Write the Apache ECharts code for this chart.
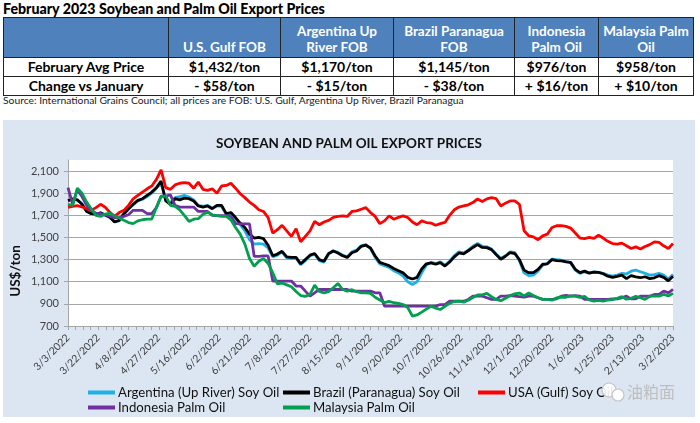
<!DOCTYPE html>
<html><head><meta charset="utf-8">
<script src="https://cdn.jsdelivr.net/npm/echarts@6/dist/echarts.min.js"></script>
<style>
body{margin:0;background:#fff;width:700px;height:423px;overflow:hidden;position:relative;font-family:Lato,"Open Sans",sans-serif;}
#title{position:absolute;left:3px;top:0px;font-weight:900;font-size:14.2px;color:#000;line-height:17px;white-space:nowrap;}
#tbl{position:absolute;left:3px;top:17px;border-collapse:collapse;font-weight:bold;table-layout:fixed;width:691px;}
#tbl td{border:1px solid #222;padding:0;text-align:center;white-space:nowrap;overflow:hidden;}
#tbl tr.h td{background:#4f81bd;color:#fff;height:37px;vertical-align:bottom;font-size:13.5px;line-height:16px;padding-bottom:2px;}
#tbl tr.r td{height:18px;font-size:14px;line-height:18px;color:#000;}
#src{position:absolute;left:3px;top:94px;font-size:10.3px;color:#222;white-space:nowrap;}
#chart{position:absolute;left:3px;top:120px;width:692px;height:297px;}
</style></head>
<body>
<div id="title"></div>
<table id="tbl"></table>
<div id="src"></div>
<div id="chart"></div>
<script>
// ---------- table data ----------
const pageTitle = "February 2023 Soybean and Palm Oil Export Prices";
const tableColumns = ["U.S. Gulf FOB", "Argentina Up\nRiver FOB", "Brazil Paranagua\nFOB", "Indonesia\nPalm Oil", "Malaysia Palm\nOil"];
const rowLabels = ["February Avg Price", "Change vs January"];
const febAvgPrice = ["$1,432/ton", "$1,170/ton", "$1,145/ton", "$976/ton", "$958/ton"];
const changeVsJan = ["- $58/ton", "- $15/ton", "- $38/ton", "+ $16/ton", "+ $10/ton"];
const sourceNote = "Source: International Grains Council; all prices are FOB: U.S. Gulf, Argentina Up River, Brazil Paranagua";

// ---------- chart data ----------
const chartTitle = "SOYBEAN AND PALM OIL EXPORT PRICES";
const yAxisTitle = "US$/ton";
const tickLabels = ["3/3/2022","3/22/2022","4/8/2022","4/27/2022","5/16/2022","6/2/2022","6/21/2022","7/8/2022","7/27/2022","8/15/2022","9/1/2022","9/20/2022","10/7/2022","10/26/2022","11/14/2022","12/1/2022","12/20/2022","1/6/2023","1/25/2023","2/13/2023","3/2/2023"];
const seriesNames = ["Argentina (Up River) Soy Oil", "Brazil (Paranagua) Soy Oil", "USA (Gulf) Soy Oil", "Indonesia Palm Oil", "Malaysia Palm Oil"];
const DAYS_PER_LABEL = 13;   // trading days between date labels
const SAMPLE_STEP = 2;       // values below are read every 2 trading days

const argentina = [
1830,1845,1838,1805,1740,1718,1715,1720,1700,1680,
1645,1650,1710,1755,1795,1830,1845,1870,1900,1945,
1990,1840,1815,1860,1870,1880,1865,1840,1790,1780,
1790,1765,1785,1780,1710,1720,1670,1615,1560,1480,
1440,1445,1440,1405,1325,1340,1370,1315,1310,1315,
1255,1290,1335,1350,1290,1278,1350,1380,1365,1340,
1325,1370,1385,1425,1435,1400,1320,1260,1245,1230,
1200,1180,1150,1100,1075,1100,1180,1250,1275,1265,
1280,1250,1285,1335,1370,1360,1385,1420,1445,1420,
1415,1395,1350,1310,1335,1370,1365,1290,1180,1155,
1160,1195,1250,1265,1305,1300,1295,1285,1270,1205,
1175,1190,1180,1190,1185,1175,1160,1150,1160,1175,
1170,1195,1205,1190,1175,1160,1165,1175,1160,1125,
1165];
const brazil = [
1833,1848,1840,1800,1735,1715,1712,1722,1703,1682,
1640,1655,1715,1760,1800,1835,1850,1880,1910,1950,
2010,1830,1800,1850,1840,1855,1850,1830,1785,1775,
1785,1760,1790,1790,1715,1725,1680,1630,1590,1530,
1495,1500,1490,1430,1335,1350,1375,1325,1320,1320,
1262,1300,1340,1355,1300,1285,1355,1378,1360,1335,
1320,1362,1378,1420,1430,1405,1333,1275,1260,1245,
1220,1200,1180,1140,1125,1140,1215,1262,1270,1258,
1272,1242,1278,1325,1360,1352,1380,1410,1435,1410,
1408,1390,1345,1303,1330,1364,1355,1300,1205,1182,
1182,1212,1258,1262,1300,1290,1288,1280,1275,1212,
1182,1196,1178,1186,1184,1172,1150,1140,1148,1160,
1128,1155,1144,1136,1145,1128,1135,1155,1140,1108,
1150];
const usa = [
1773,1780,1788,1775,1760,1745,1770,1800,1773,1727,
1690,1725,1745,1790,1849,1880,1910,1940,1965,2025,
2110,1950,1935,1975,1990,1995,1990,1945,2000,1935,
1925,1940,1900,1965,1970,1990,1945,1895,1860,1820,
1790,1750,1735,1680,1540,1570,1610,1560,1510,1580,
1460,1510,1560,1645,1615,1640,1655,1682,1690,1695,
1690,1735,1740,1755,1770,1725,1690,1625,1650,1695,
1665,1682,1695,1680,1640,1615,1650,1635,1630,1610,
1625,1636,1700,1750,1775,1785,1795,1815,1849,1825,
1849,1860,1850,1785,1810,1830,1830,1800,1560,1515,
1505,1480,1515,1530,1590,1606,1606,1600,1585,1540,
1495,1490,1500,1492,1520,1495,1465,1445,1440,1449,
1425,1400,1415,1395,1418,1435,1460,1455,1425,1400,
1445];
const indonesia = [
1950,1800,1930,1870,1790,1745,1720,1715,1705,1690,
1680,1680,1690,1705,1745,1745,1745,1715,1715,1770,
1873,1873,1885,1790,1775,1775,1775,1775,1735,1735,
1735,1700,1697,1697,1697,1690,1625,1622,1622,1622,
1330,1330,1333,1333,1106,1106,1106,1106,1106,1061,
1061,1015,970,1000,1030,1030,1030,1030,1030,1030,
1030,1015,1015,1015,1015,1015,1000,1000,880,880,
880,880,880,880,880,880,880,880,880,880,
894,894,924,924,924,924,940,970,970,970,
955,940,940,970,970,975,970,965,960,970,
970,955,940,940,940,945,970,976,970,975,
970,940,940,940,940,940,940,945,945,955,
970,945,945,970,970,970,985,985,1015,1000,
1030];
const malaysia = [
1800,1790,1945,1900,1820,1760,1700,1690,1712,1720,
1697,1675,1655,1635,1625,1650,1660,1665,1667,1770,
1870,1875,1790,1780,1750,1700,1645,1665,1670,1710,
1727,1705,1697,1690,1690,1660,1590,1530,1440,1310,
1240,1285,1310,1265,1180,1080,1088,1072,1055,1012,
975,968,985,1070,1012,1000,1010,1045,1085,1030,
1015,1028,1010,1000,1000,995,960,935,912,922,
910,905,894,866,790,800,825,852,878,862,
849,878,905,922,924,915,932,958,980,982,
995,965,940,928,950,975,990,998,972,998,
975,955,940,940,933,955,962,960,972,970,
958,968,935,924,932,925,935,938,950,965,
942,950,968,955,940,968,972,970,985,972,
995];
const watermarkText = "油粕面";

// ---------- build header & table ----------
document.getElementById('title').textContent = pageTitle;
document.getElementById('src').textContent = sourceNote;
const colWidths = [165, 112, 113, 121, 84, 95];
const tbl = document.getElementById('tbl');
let html = '<colgroup>' + colWidths.map(w => '<col style="width:' + w + 'px">').join('') + '</colgroup>';
html += '<tr class="h"><td></td>' + tableColumns.map(c => '<td>' + c.replace('\n', '<br>') + '</td>').join('') + '</tr>';
html += '<tr class="r"><td>' + rowLabels[0] + '</td>' + febAvgPrice.map(v => '<td>' + v + '</td>').join('') + '</tr>';
html += '<tr class="r"><td>' + rowLabels[1] + '</td>' + changeVsJan.map(v => '<td>' + v + '</td>').join('') + '</tr>';
tbl.innerHTML = html;

// ---------- chart ----------
const values = [argentina, brazil, usa, indonesia, malaysia];
const colors = ['#1fb0e6', '#000000', '#ff0000', '#7030a0', '#00a050'];
const lastIndex = (tickLabels.length - 1) * DAYS_PER_LABEL;
const FONT = 'Lato';

const series = values.map((arr, s) => ({
  name: seriesNames[s],
  type: 'line',
  showSymbol: false,
  symbol: 'none',
  data: arr.map((v, k) => [k * SAMPLE_STEP, v]),
  lineStyle: { width: 2.8, color: colors[s] },
  itemStyle: { color: colors[s] },
  z: 2 + s
}));

const legendPos = [[85, 266], [280, 266], [475, 266], [85, 281], [280, 281]];
const legends = seriesNames.map((n, s) => ({
  data: [n],
  left: legendPos[s][0],
  top: legendPos[s][1],
  icon: 'rect',
  itemWidth: 27,
  itemHeight: 4,
  padding: 0,
  selectedMode: false,
  textStyle: { fontFamily: FONT, fontSize: 13.2, color: '#111', padding: [0, 0, 0, -2] }
}));

const chart = echarts.init(document.getElementById('chart'), null, { renderer: 'canvas' });
chart.setOption({
  animation: false,
  backgroundColor: '#dce6f2',
  title: {
    text: chartTitle, left: 'center', top: 12,
    textStyle: { fontFamily: FONT, fontWeight: 'bold', fontSize: 13.5, color: '#111' }
  },
  legend: legends,
  grid: { left: 65, right: 22, top: 40, bottom: 91, show: true, backgroundColor: '#ffffff', borderWidth: 0 },
  xAxis: {
    type: 'value', min: 0, max: lastIndex, interval: DAYS_PER_LABEL,
    axisLine: { show: true, lineStyle: { color: '#a6a6a6', width: 1 } },
    axisTick: { show: true, length: 4, lineStyle: { color: '#a6a6a6' } },
    minorTick: { show: true, splitNumber: 4, length: 4, lineStyle: { color: '#a6a6a6' } },
    splitLine: { show: false },
    axisLabel: {
      rotate: 45, margin: 10, fontFamily: FONT, fontSize: 10.5, color: '#404040',
      formatter: v => tickLabels[Math.round(v / DAYS_PER_LABEL)] || ''
    }
  },
  yAxis: {
    type: 'value', min: 700, max: 2200, interval: 200,
    axisLine: { show: true, lineStyle: { color: '#a6a6a6', width: 1 } },
    axisTick: { show: true, length: 4, lineStyle: { color: '#a6a6a6' } },
    splitLine: { show: true, showMaxLine: false, lineStyle: { color: '#a6a6a6', width: 1.2 } },
    axisLabel: {
      showMaxLabel: false, margin: 9, fontFamily: FONT, fontSize: 11, color: '#404040',
      formatter: v => v.toLocaleString('en-US')
    }
  },
  graphic: [
    {
      type: 'text', x: 13, y: 151, rotation: Math.PI / 2,
      style: { text: yAxisTitle, fontFamily: FONT, fontWeight: 'bold', fontSize: 13.5, fill: '#111',
               textAlign: 'center', textVerticalAlign: 'middle' }
    },
    { type: 'circle', shape: { cx: 606, cy: 270, r: 7 }, style: { fill: 'rgba(255,255,255,0.9)', stroke: '#c4c4c4', lineWidth: 1.2 }, z: 50 },
    { type: 'circle', shape: { cx: 615, cy: 275, r: 6 }, style: { fill: 'rgba(255,255,255,0.9)', stroke: '#c4c4c4', lineWidth: 1.2 }, z: 51 },
    {
      type: 'text', x: 624, y: 272, z: 52,
      style: { text: watermarkText, fontFamily: '"Noto Sans CJK SC"', fontSize: 16, fill: '#bdbdbd',
               textVerticalAlign: 'middle' }
    }
  ],
  series: series
});
</script>
</body></html>
